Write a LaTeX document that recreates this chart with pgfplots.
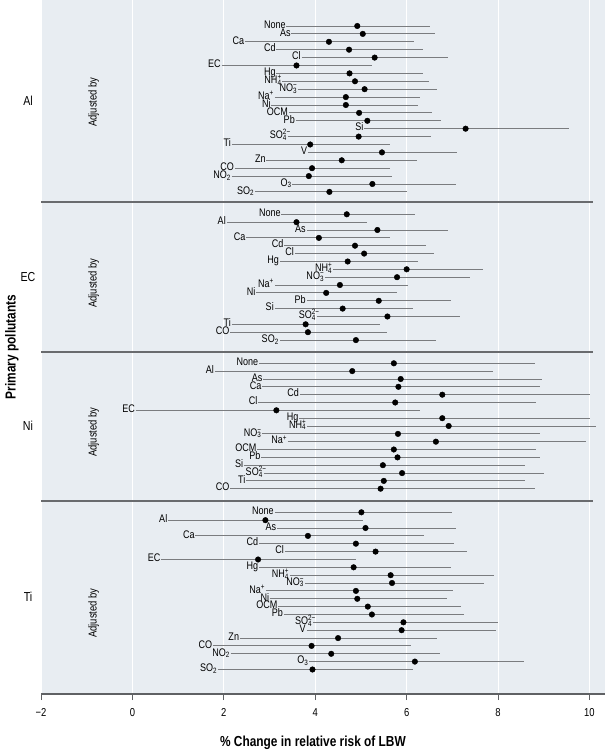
\documentclass[border=0pt]{standalone}
\usepackage{fontspec}
\setmainfont{Liberation Sans}[FakeStretch=0.82]
\usepackage{pgfplots}
\pgfplotsset{compat=1.18}
\usepackage{pgfplotstable}

\definecolor{bgcol}{RGB}{232,237,242}
\definecolor{linegray}{RGB}{122,124,127}
\definecolor{sepgray}{RGB}{105,107,110}
\definecolor{axisgray}{RGB}{95,97,100}

\newcommand\ion[2]{\begingroup\sbox0{\textsuperscript{#2}}\sbox2{\textsubscript{#1}}\rlap{\usebox0}\usebox2\ifdim\wd0>\wd2 \hskip\dimexpr\wd0-\wd2\relax\fi\endgroup}

\pgfplotstableread[col sep=comma]{
y,lo,est,hi,lab
668.0,3.37,4.92,6.51,None
660.1,3.48,5.04,6.61,As
652.2,2.46,4.30,6.16,Ca
644.3,3.15,4.74,6.35,Cd
636.4,3.70,5.30,6.91,Cl
628.5,1.95,3.59,5.24,EC
620.6,3.15,4.75,6.35,Hg
612.7,3.28,4.87,6.49,NH\ion{4}{+}
604.8,3.62,5.08,6.66,NO\ion{3}{−}
596.9,3.11,4.67,6.29,Na\textsuperscript{+}
589.0,3.04,4.67,6.24,Ni
581.1,3.42,4.96,6.56,OCM
573.2,3.57,5.14,6.75,Pb
565.3,5.07,7.29,9.55,Si
557.4,3.40,4.95,6.53,SO\ion{4}{2−}
549.5,2.17,3.89,5.63,Ti
541.6,3.84,5.46,7.10,V
533.7,2.93,4.58,6.22,Zn
525.8,2.24,3.93,5.63,CO
517.9,2.17,3.86,5.67,NO\textsubscript{2}
510.0,3.50,5.25,7.09,O\textsubscript{3}
502.1,2.68,4.31,6.00,SO\textsubscript{2}
}\tabAl

\pgfplotstableread[col sep=comma]{
y,lo,est,hi,lab
479.7,3.26,4.69,6.18,None
471.8,2.06,3.59,5.14,Al
464.0,3.81,5.36,6.91,As
456.1,2.49,4.08,5.64,Ca
448.3,3.32,4.87,6.43,Cd
440.4,3.55,5.07,6.59,Cl
432.5,3.22,4.71,6.24,Hg
424.7,4.39,6.00,7.68,NH\ion{4}{+}
416.8,4.21,5.79,7.38,NO\ion{3}{−}
409.0,3.11,4.54,6.03,Na\textsuperscript{+}
401.1,2.71,4.24,5.78,Ni
393.2,3.81,5.39,6.96,Pb
385.4,3.11,4.60,6.13,Si
377.5,4.03,5.58,7.16,SO\ion{4}{2−}
369.7,2.17,3.79,5.42,Ti
361.8,2.14,3.84,5.57,CO
353.9,3.22,4.89,6.65,SO\textsubscript{2}
}\tabEC

\pgfplotstableread[col sep=comma]{
y,lo,est,hi,lab
330.7,2.77,5.72,8.81,None
322.9,1.80,4.81,7.88,Al
315.0,2.86,5.87,8.97,As
307.2,2.84,5.82,8.91,Ca
299.3,3.66,6.78,10.01,Cd
291.5,2.75,5.75,8.82,Cl
283.7,0.07,3.15,6.30,EC
275.8,3.65,6.78,10.01,Hg
268.0,3.82,6.92,10.15,NH\ion{4}{+}
260.1,2.84,5.81,8.91,NO\ion{3}{−}
252.3,3.40,6.64,9.93,Na\textsuperscript{+}
244.5,2.73,5.72,8.84,OCM
236.6,2.82,5.80,8.91,Pb
228.8,2.44,5.48,8.58,Si
220.9,2.87,5.90,9.00,SO\ion{4}{2−}
213.1,2.49,5.50,8.58,Ti
205.3,2.14,5.43,8.80,CO
}\tabNi

\pgfplotstableread[col sep=comma]{
y,lo,est,hi,lab
181.7,3.11,5.01,6.99,None
173.8,0.78,2.91,5.05,Al
166.0,3.16,5.10,7.07,As
158.1,1.38,3.84,6.37,Ca
150.3,2.77,4.89,7.04,Cd
142.4,3.33,5.32,7.33,Cl
134.5,0.63,2.75,4.90,EC
126.7,2.77,4.84,6.96,Hg
118.8,3.44,5.65,7.91,NH\ion{4}{+}
111.0,3.77,5.68,7.70,NO\ion{3}{−}
103.1,2.92,4.89,7.01,Na\textsuperscript{+}
95.2,3.01,4.92,6.89,Ni
87.4,3.19,5.15,7.18,OCM
79.5,3.31,5.24,7.25,Pb
71.7,3.95,5.93,7.99,SO\ion{4}{2−}
63.8,3.81,5.89,7.96,V
55.9,2.35,4.50,6.67,Zn
48.1,1.76,3.92,6.09,CO
40.2,2.15,4.35,6.72,NO\textsubscript{2}
32.4,3.87,6.18,8.57,O\textsubscript{3}
24.5,1.87,3.94,6.13,SO\textsubscript{2}
}\tabTi

\pgfplotsset{
  cibar/.style={only marks, mark=none,
    error bars/.cd, x dir=both, x explicit, error mark=none,
    error bar style={draw=linegray, line width=0.9pt}},
  dots/.style={only marks, mark=*, mark size=2.8pt, black, mark options={draw=black, fill=black}},
  labs/.style={only marks, mark=*, mark size=0pt, mark options={draw=none, fill=none},
    nodes near coords, point meta=explicit symbolic,
    every node near coord/.style={anchor=base east, yshift=-2.3pt, inner xsep=0.6pt, inner ysep=0pt,
      font=\fontsize{11}{13}\selectfont, text=black}},
}

\begin{document}
\begin{tikzpicture}
\begin{axis}[
  scale only axis, width=564pt, height=694pt,
  xmin=-2, xmax=10.34, ymin=0, ymax=694,
  clip=false,
  axis background/.style={fill=bgcol},
  axis x line*=bottom, axis y line=none,
  x axis line style={-, draw=axisgray, line width=1.2pt},
  xtick={-2,0,2,4,6,8,10},
  xticklabels={−2,0,2,4,6,8,10},
  ytick=\empty,
  xmajorgrids, grid style={white, line width=1pt},
  tick align=outside, major tick length=6pt,
  tick style={draw=axisgray, line width=0.8pt},
  xticklabel style={font=\fontsize{11.5}{13}\selectfont, yshift=-5pt},
]
\addplot[cibar] table[x=est, y=y, x error plus expr=\thisrow{hi}-\thisrow{est}, x error minus expr=\thisrow{est}-\thisrow{lo}] {\tabAl};
\addplot[cibar] table[x=est, y=y, x error plus expr=\thisrow{hi}-\thisrow{est}, x error minus expr=\thisrow{est}-\thisrow{lo}] {\tabEC};
\addplot[cibar] table[x=est, y=y, x error plus expr=\thisrow{hi}-\thisrow{est}, x error minus expr=\thisrow{est}-\thisrow{lo}] {\tabNi};
\addplot[cibar] table[x=est, y=y, x error plus expr=\thisrow{hi}-\thisrow{est}, x error minus expr=\thisrow{est}-\thisrow{lo}] {\tabTi};

\addplot[dots] table[x=est, y=y] {\tabAl};
\addplot[dots] table[x=est, y=y] {\tabEC};
\addplot[dots] table[x=est, y=y] {\tabNi};
\addplot[dots] table[x=est, y=y] {\tabTi};

\addplot[labs] table[x=lo, y=y, meta=lab] {\tabAl};
\addplot[labs] table[x=lo, y=y, meta=lab] {\tabEC};
\addplot[labs] table[x=lo, y=y, meta=lab] {\tabNi};
\addplot[labs] table[x=lo, y=y, meta=lab] {\tabTi};

\draw[sepgray, line width=1.8pt] (axis cs:-2,492) -- (axis cs:10.07,492);
\draw[sepgray, line width=1.8pt] (axis cs:-2,342) -- (axis cs:10.07,342);
\draw[sepgray, line width=1.8pt] (axis cs:-2,193) -- (axis cs:10.07,193);

\node[rotate=90, font=\fontsize{11.5}{13}\selectfont] at (axis cs:-0.85,592) {Adjusted by};
\node[rotate=90, font=\fontsize{11.5}{13}\selectfont] at (axis cs:-0.85,411) {Adjusted by};
\node[rotate=90, font=\fontsize{11.5}{13}\selectfont] at (axis cs:-0.85,262) {Adjusted by};
\node[rotate=90, font=\fontsize{11.5}{13}\selectfont] at (axis cs:-0.85,81) {Adjusted by};

\node[font=\fontsize{13}{15}\selectfont, xshift=-13pt] at (axis cs:-2,593) {Al};
\node[font=\fontsize{13}{15}\selectfont, xshift=-13pt] at (axis cs:-2,417) {EC};
\node[font=\fontsize{13}{15}\selectfont, xshift=-13pt] at (axis cs:-2,268) {Ni};
\node[font=\fontsize{13}{15}\selectfont, xshift=-13pt] at (axis cs:-2,97) {Ti};

\node[rotate=90, font=\bfseries\fontsize{14.5}{16}\selectfont, yshift=29pt] at (axis cs:-2,347) {Primary pollutants};
\node[anchor=base, font=\bfseries\fontsize{14.5}{16}\selectfont, yshift=-52pt] at (axis cs:3.95,0) {\% Change in relative risk of LBW};

\coordinate (TL) at (axis cs:-2,694);
\coordinate (BR) at (axis cs:10.34,0);
\end{axis}
\pgfresetboundingbox
\path[use as bounding box] ([xshift=-41pt]TL) rectangle ([yshift=-56pt]BR);
\end{tikzpicture}
\end{document}
